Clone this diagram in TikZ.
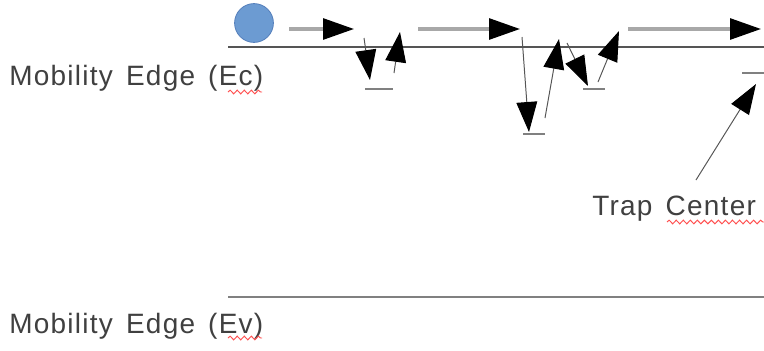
\documentclass[tikz,border=0pt]{standalone}
\usepackage{fontspec}
\setmainfont{Liberation Sans}
\newfontfamily\edgefont{Liberation Sans}[LetterSpace=4.5,WordSpace=1.45]
\usepackage{tikz}
\usetikzlibrary{arrows.meta,decorations.pathmorphing}
\definecolor{carrierblue}{RGB}{108,155,210}
\definecolor{carrieredge}{RGB}{86,128,188}
\definecolor{labelgray}{RGB}{64,64,64}
\definecolor{edgegray}{RGB}{85,85,85}
\definecolor{levelgray}{RGB}{128,128,128}
\definecolor{shaftgray}{RGB}{168,168,168}
\definecolor{spellred}{RGB}{255,80,80}

\begin{document}
\begin{tikzpicture}[
  x=0.025cm, y=-0.025cm,
  every node/.style={font=\edgefont\fontsize{19.9}{24}\selectfont,text=labelgray,inner sep=0pt},
  edgeline/.style={draw=edgegray,line width=1.4pt},
  traplevel/.style={draw=levelgray,line width=1.3pt},
  hop/.style={draw=shaftgray,line width=2.2pt,
              -{Triangle[length=0.77cm,width=0.52cm,color=black]}},
  jump/.style={draw=edgegray,line width=0.7pt,
               -{Triangle[length=0.75cm,width=0.52cm,color=black]}},
  squiggle/.style={draw=spellred,line width=0.7pt,decorate,
                   decoration={snake,amplitude=1.3pt,segment length=5pt}},
]
  \useasboundingbox (0,0) rectangle (764,350);

  % Mobility edges
  \draw[edgeline] (228,47) -- (764,47);
  \draw[edgeline,draw=levelgray] (228,297) -- (764,297);
  \node[anchor=base west] (ec) at (9,85) {Mobility Edge (Ec)};
  \node[anchor=base west] (ev) at (9,333) {Mobility Edge (Ev)};
  \node[anchor=base west] (trap) at (592,215) {Trap Center};

  % Trap levels below Ec
  \draw[traplevel] (365,89) -- (393,89);
  \draw[traplevel] (523,134) -- (545,134);
  \draw[traplevel] (583,89) -- (605,89);
  \draw[traplevel] (742,73) -- (764,73);

  % Carrier
  \node[circle,fill=carrierblue,draw=carrieredge,line width=0.6pt,
        minimum size=0.97cm] (carrier) at (254,23) {};

  % Free moves along Ec
  \coordinate (h1a) at (289,29);  \coordinate (h1b) at (354,29);
  \coordinate (h2a) at (418,29);  \coordinate (h2b) at (520,29);
  \coordinate (h3a) at (628,29);  \coordinate (h3b) at (761,29);
  \draw[hop] (h1a) -- (h1b);
  \draw[hop] (h2a) -- (h2b);
  \draw[hop] (h3a) -- (h3b);

  % Trapping and release
  \coordinate (d1a) at (364,38);  \coordinate (d1b) at (370,80);
  \coordinate (u1a) at (394,73);  \coordinate (u1b) at (400,32);
  \coordinate (d2a) at (522,37);  \coordinate (d2b) at (529,132);
  \coordinate (u2a) at (545,118); \coordinate (u2b) at (559,39);
  \coordinate (d3a) at (567,43);  \coordinate (d3b) at (588,86);
  \coordinate (u3a) at (598,82);  \coordinate (u3b) at (619,31);
  \draw[jump] (d1a) -- (d1b);
  \draw[jump] (u1a) -- (u1b);
  \draw[jump] (d2a) -- (d2b);
  \draw[jump] (u2a) -- (u2b);
  \draw[jump] (d3a) -- (d3b);
  \draw[jump] (u3a) -- (u3b);

  % Pointer to the trap level
  \coordinate (tp) at (696,180);  \coordinate (tl) at (756,84);
  \draw[jump] (tp) -- (tl);

  % Spell-check marks
  \draw[squiggle] (228,92) -- (262,92);
  \draw[squiggle] (228,338) -- (262,338);
  \draw[squiggle] (667,222) -- (764,222);
\end{tikzpicture}
\end{document}
